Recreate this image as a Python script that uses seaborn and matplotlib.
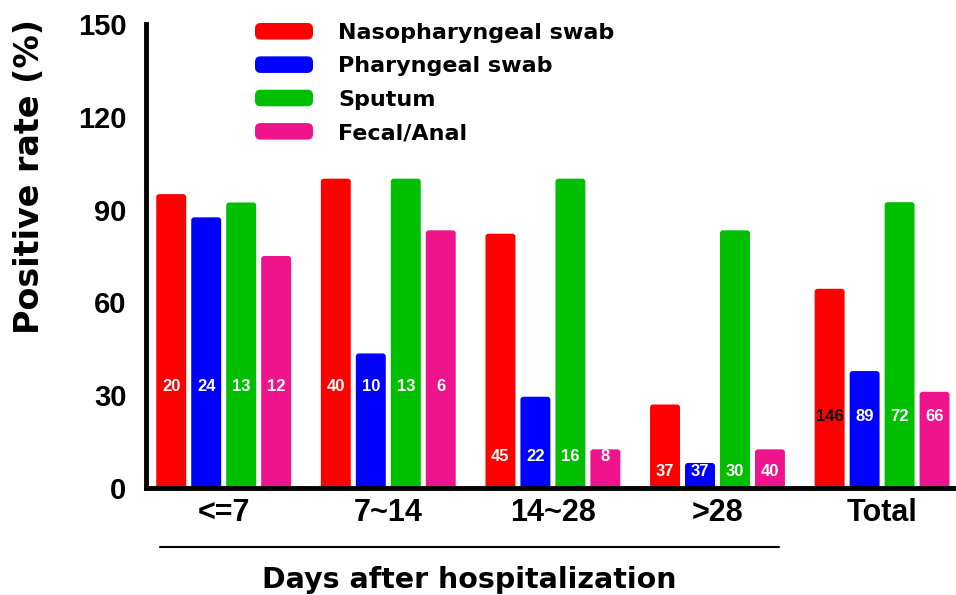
import numpy as np
import pandas as pd
import seaborn as sns
import matplotlib
matplotlib.use("Agg")
import matplotlib.pyplot as plt
from matplotlib.patches import FancyBboxPatch, Patch
from matplotlib.legend_handler import HandlerPatch
from matplotlib.lines import Line2D
from matplotlib import font_manager as fm

# ---------------- data ----------------
groups = ["<=7", "7~14", "14~28", ">28", "Total"]
samples = ["Nasopharyngeal swab", "Pharyngeal swab", "Sputum", "Fecal/Anal"]
naso = [95.0, 100.0, 82.2, 27.0, 64.4]
phar = [87.5, 43.5, 29.5, 8.1, 37.8]
sputum = [92.3, 100.0, 100.0, 83.3, 92.4]
fecal = [75.0, 83.3, 12.5, 12.5, 31.1]
n_naso = [20, 40, 45, 37, 146]
n_phar = [24, 10, 22, 37, 89]
n_sput = [13, 13, 16, 30, 72]
n_fecal = [12, 6, 8, 40, 66]
yticks = [0, 30, 60, 90, 120, 150]
ylabel = "Positive rate (%)"
xlabel = "Days after hospitalization"
colors = ["#FF0000", "#0000FF", "#00BE00", "#F0148C"]

# ---------------- layout ----------------
label_y = [32.7, 32.7, 10.1, 5.3, 23.0]  # vertical position of count labels per group

sns.set_style("white")
plt.rcParams["font.family"] = ["Liberation Sans", "DejaVu Sans"]
plt.rcParams["text.color"] = "black"
plt.rcParams["axes.labelcolor"] = "black"
plt.rcParams["xtick.color"] = "black"
plt.rcParams["ytick.color"] = "black"

names = {f.name for f in fm.fontManager.ttflist}
narrow = "Liberation Sans Narrow" if "Liberation Sans Narrow" in names else "Liberation Sans"
num_size = 13 if narrow == "Liberation Sans Narrow" else 12

rows = []
for s, vals, ns in zip(samples, [naso, phar, sputum, fecal], [n_naso, n_phar, n_sput, n_fecal]):
    for g, v, n in zip(groups, vals, ns):
        rows.append({"group": g, "sample": s, "rate": v, "n": n})
df = pd.DataFrame(rows)
counts = [n_naso, n_phar, n_sput, n_fecal]

W, H = 956, 595
fig = plt.figure(figsize=(W / 100, H / 100), dpi=100)
ax = fig.add_axes([146 / W, 1 - 488 / H, (W - 146) / W, 464 / H])

sns.barplot(data=df, x="group", y="rate", hue="sample", order=groups,
            hue_order=samples, palette=colors, width=0.85, gap=0.144,
            saturation=1, legend=False, errorbar=None, ax=ax)

xlim = (-0.472, 4.449)
ax.set_xlim(*xlim)
ax.set_ylim(0, 150)
ax.set_yticks(yticks)

# count labels
for j, cont in enumerate(ax.containers):
    for i, bar in enumerate(cont):
        x = bar.get_x() + bar.get_width() / 2
        col = "black" if (j == 0 and i == 4) else "white"
        ax.text(x, label_y[i], str(counts[j][i]), ha="center", va="center",
                color=col, fontsize=num_size, fontweight="bold", family=narrow,
                zorder=5)

# round the top corners of the bars
sx = ax.transData.transform((1, 0))[0] - ax.transData.transform((0, 0))[0]
sy = ax.transData.transform((0, 1))[1] - ax.transData.transform((0, 0))[1]
r = 3.0 / sx
for p in list(ax.patches):
    x0, y0, w, h = p.get_x(), p.get_y(), p.get_width(), p.get_height()
    fb = FancyBboxPatch((x0, y0 - 3), w, h + 3,
                        boxstyle=f"round,pad=0,rounding_size={r}",
                        mutation_aspect=sx / sy, facecolor=p.get_facecolor(),
                        edgecolor="none", zorder=p.get_zorder())
    ax.add_patch(fb)
    p.remove()
ax.set_xlim(*xlim)
ax.set_ylim(0, 150)

sns.despine(ax=ax)
for sp in ["left", "bottom"]:
    ax.spines[sp].set_linewidth(3.5)
    ax.spines[sp].set_color("black")

ax.tick_params(axis="y", direction="out", length=12, width=3.5, pad=2,
               labelsize=21, color="black", labelcolor="black")
ax.tick_params(axis="x", direction="in", length=9.5, width=2.5, pad=7,
               labelsize=22, color="black", labelcolor="black")
for lab in ax.get_yticklabels() + ax.get_xticklabels():
    lab.set_fontweight("bold")
    lab.set_family("Liberation Sans")

ax.set_xlabel(xlabel, fontsize=20.5, fontweight="bold", family="DejaVu Sans",
              color="black")
ax.xaxis.set_label_coords((469.5 - 146) / (W - 146), (488 - 587.5) / 464)
ax.xaxis.label.set_va("baseline")
ax.set_ylabel(ylabel, fontsize=24, fontweight="bold", family="DejaVu Sans",
              color="black")
ax.yaxis.set_label_coords((30 - 146) / (W - 146), (488 - 176.5) / 464)
ax.yaxis.label.set_va("center")


class RoundedHandler(HandlerPatch):
    def create_artists(self, legend, orig_handle, xdescent, ydescent, width,
                       height, fontsize, trans):
        p = FancyBboxPatch((-xdescent, -ydescent), width, height,
                           boxstyle="round,pad=0,rounding_size=4",
                           facecolor=orig_handle.get_facecolor(),
                           edgecolor="none", transform=trans)
        return [p]


handles = [Patch(facecolor=c, label=s) for c, s in zip(colors, samples)]
leg = ax.legend(handles=handles, loc="upper left",
                bbox_to_anchor=(255 / W, 1 - 23 / H),
                bbox_transform=fig.transFigure, frameon=False,
                borderpad=0, borderaxespad=0, handlelength=2.61,
                handleheight=0.77, handletextpad=1.13, labelspacing=0.6,
                prop={"family": "DejaVu Sans", "weight": "bold", "size": 16},
                handler_map={Patch: RoundedHandler()})
for t in leg.get_texts():
    t.set_color("black")

fig.add_artist(Line2D([160 / W, 779 / W], [1 - 546.7 / H] * 2,
                      transform=fig.transFigure, color="black", lw=1.5))

fig.savefig("out.png", dpi=100)
